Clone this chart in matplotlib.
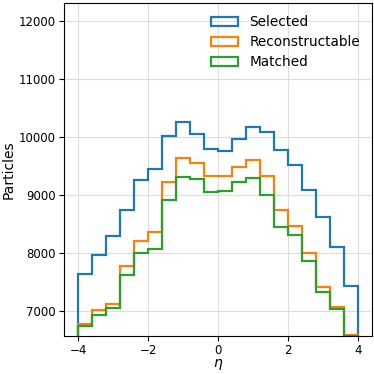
import matplotlib
matplotlib.use("Agg")
import matplotlib.pyplot as plt
import numpy as np

# eta bin edges and per-bin counts
edges = np.linspace(-4, 4, 21)
selected = [7626, 7965, 8288, 8736, 9247, 9437, 10011, 10264, 10057, 9782,
            9750, 9966, 10178, 10075, 9776, 9512, 9086, 8609, 8091, 7431]
reconstructable = [6776, 7006, 7121, 7764, 8201, 8362, 9224, 9632, 9540, 9322,
                   9322, 9472, 9592, 9328, 8730, 8466, 8000, 7414, 7063, 6580]
matched = [6730, 6931, 7046, 7621, 7994, 8063, 8908, 9304, 9264, 9040,
           9057, 9218, 9287, 8988, 8443, 8299, 7851, 7316, 7034, 6570]

labels = ["Selected", "Reconstructable", "Matched"]
colors = ["#1f77b4", "#ff7f0e", "#2ca02c"]

fig = plt.figure(figsize=(3.74, 3.74), dpi=100)
ax = fig.add_axes([0.171, 0.102, 0.824, 0.890])

centers = edges[:-1]
for vals, lab, col in zip([selected, reconstructable, matched], labels, colors):
    ax.hist(centers, bins=edges, weights=vals, histtype="step",
            color=col, linewidth=1.6, label=lab)

ax.set_xlim(-4.4, 4.4)
ax.set_ylim(6565, 12310)
ax.set_xticks([-4, -2, 0, 2, 4])
ax.set_yticks([7000, 8000, 9000, 10000, 11000, 12000])
ax.tick_params(labelsize=8.5, pad=2.5)
ax.grid(color="#dddddd", linewidth=0.8)
ax.set_axisbelow(True)
ax.set_xlabel(r"$\eta$", fontsize=10, labelpad=0)
ax.set_ylabel("Particles", fontsize=10, labelpad=2)
ax.legend(loc="upper right", frameon=False, fontsize=9.8,
          labelspacing=0.45, borderaxespad=0.5)

fig.savefig("out.png", dpi=100)
